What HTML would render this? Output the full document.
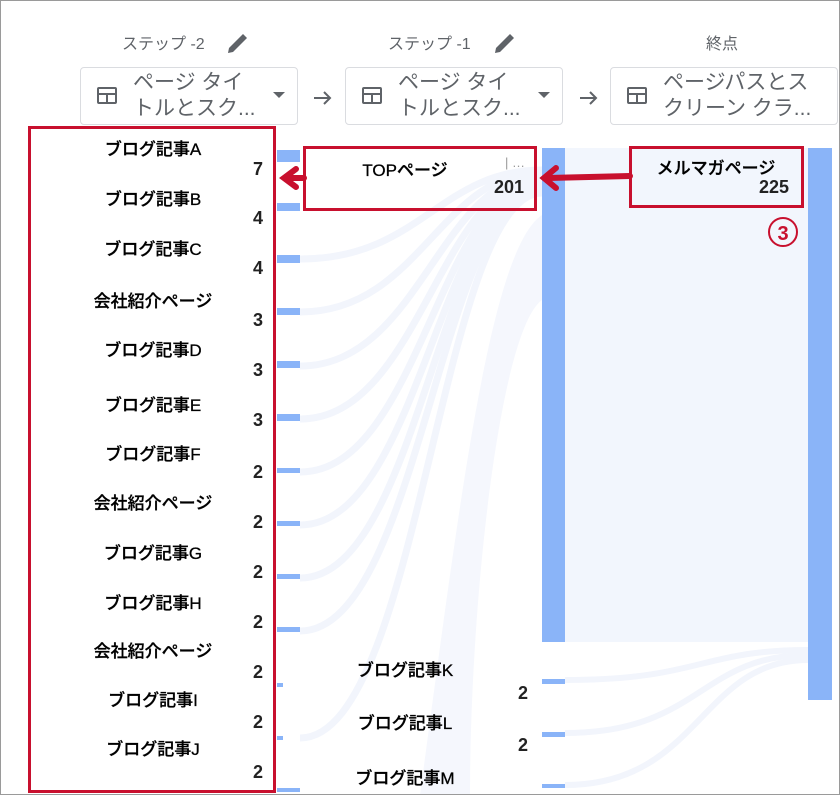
<!DOCTYPE html>
<html><head><meta charset="utf-8"><style>
*{margin:0;padding:0;box-sizing:border-box}
body{width:840px;height:795px;background:#fff;position:relative;overflow:hidden;font-family:"Liberation Sans","Noto Sans CJK JP",sans-serif;color:#202124}
.frame{position:absolute;left:0;top:0;width:840px;height:795px;border:1px solid #9a9a9a}
.a{position:absolute;white-space:nowrap}
.hd{font-size:16px;color:#5f6368}
.dd{position:absolute;top:67px;height:58px;border:1px solid #dadce0;border-radius:4px;background:#fff}
.dd .t{position:absolute;left:52px;top:2px;font-size:21px;line-height:26px;color:#5f6368}
.ic{position:absolute;left:16px;top:19px;width:20px;height:17px;border:2px solid #5f6368;border-radius:2px}
.ic:before{content:"";position:absolute;left:0;right:0;top:4px;border-top:2px solid #5f6368}
.ic:after{content:"";position:absolute;left:7px;top:4px;bottom:0;border-left:2px solid #5f6368}
.car{position:absolute;top:24px;width:0;height:0;border-left:6px solid transparent;border-right:6px solid transparent;border-top:6px solid #5f6368}
.lb{font-size:17px;color:#000;text-align:center;width:200px;font-weight:500;-webkit-text-stroke:0.3px #000}
.n{font-size:18px;font-weight:bold;color:#222}
.red{position:absolute;border:3px solid #c8102e}
</style></head><body>
<svg class="a" style="left:0;top:0" width="840" height="795">
<rect x="565" y="148" width="243" height="494" fill="#f2f6fd"/>
<g fill="none" stroke="#f2f5fc" stroke-width="7">
<path d="M300 259 C420 259 440 170 542 170"/>
<path d="M300 312 C420 312 440 172 542 172"/>
<path d="M300 366 C420 366 440 175 542 175"/>
<path d="M300 419 C420 419 440 178 542 178"/>
<path d="M300 472 C420 472 440 181 542 181"/>
<path d="M300 525 C420 525 440 184 542 184"/>
<path d="M300 578 C420 578 440 187 542 187"/>
<path d="M300 631 C420 631 440 190 542 190"/>
<path d="M300 738 C420 738 440 193 542 193"/>
</g>
<path d="M420 795 C460 500 490 250 542 215 L542 300 C500 330 470 600 470 795Z" fill="#f5f7fd"/>
<g fill="none" stroke="#f2f5fc" stroke-width="6">
<path d="M565 680 C700 680 700 650 808 650"/>
<path d="M565 733 C700 733 700 655 808 655"/>
<path d="M565 785 C700 785 700 660 808 660"/>
</g>
<rect x="542" y="148" width="23" height="494" fill="#8ab4f8"/>
<rect x="808" y="148" width="24" height="552" fill="#8ab4f8"/>
<rect x="277" y="150" width="23" height="12" fill="#8ab4f8"/>
<rect x="277" y="203" width="23" height="8" fill="#8ab4f8"/>
<g fill="#8ab4f8">
<rect x="277" y="255" width="23" height="8"/><rect x="277" y="308" width="23" height="7"/>
<rect x="277" y="361" width="23" height="7"/><rect x="277" y="414" width="23" height="7"/>
<rect x="277" y="468" width="23" height="5"/><rect x="277" y="521" width="23" height="5"/>
<rect x="277" y="574" width="23" height="5"/><rect x="277" y="627" width="23" height="5"/>
<rect x="277" y="683" width="6" height="4"/><rect x="277" y="736" width="6" height="4"/>
<rect x="277" y="788" width="23" height="4"/>
<rect x="542" y="679" width="23" height="5"/><rect x="542" y="732" width="23" height="5"/><rect x="542" y="784" width="23" height="4"/>
</g>
<g stroke="#5f6368" stroke-width="2" fill="none">
<path d="M314 98 H330 M324 92 L330 98 L324 104"/>
<path d="M580 98 H596 M590 92 L596 98 L590 104"/>
</g>
<g fill="#5f6368">
<path d="M229 48 L243 34 L247 38 L233 52 L228 53Z"/>
<path d="M496 48 L510 34 L514 38 L500 52 L495 53Z"/>
</g>
<g stroke="#c8102e" stroke-width="6" fill="none" stroke-linecap="round">
<path d="M630 176 L548 178"/><path d="M556 168 L544 178 L556 188"/>
<path d="M304 178 L288 178"/><path d="M296 169 L284 178 L296 187"/>
</g>
<circle cx="783" cy="232" r="14" fill="none" stroke="#c8102e" stroke-width="2"/>
<text x="783" y="240" font-size="20" font-weight="bold" fill="#c8102e" text-anchor="middle" font-family="Liberation Sans,sans-serif">3</text>
</svg>
<div class="a hd" style="left:122px;top:30px">ステップ -2</div>
<div class="a hd" style="left:388px;top:30px">ステップ -1</div>
<div class="a hd" style="left:706px;top:30px">終点</div>
<div class="dd" style="left:80px;width:218px"><div class="ic"></div><div class="t">ページ タイ<br>トルとスク...</div><div class="car" style="left:192px"></div></div>
<div class="dd" style="left:345px;width:218px"><div class="ic"></div><div class="t">ページ タイ<br>トルとスク...</div><div class="car" style="left:192px"></div></div>
<div class="dd" style="left:610px;width:228px"><div class="ic"></div><div class="t">ページパスとス<br>クリーン クラ...</div></div>
<div class="red" style="left:28px;top:126px;width:248px;height:667px"></div>
<div class="red" style="left:303px;top:146px;width:234px;height:65px"></div>
<div class="red" style="left:629px;top:146px;width:175px;height:62px"></div>
<div class="a lb" style="left:53px;top:135px">ブログ記事A</div>
<div class="a lb" style="left:53px;top:185px">ブログ記事B</div>
<div class="a lb" style="left:53px;top:235px">ブログ記事C</div>
<div class="a lb" style="left:53px;top:287px">会社紹介ページ</div>
<div class="a lb" style="left:53px;top:336px">ブログ記事D</div>
<div class="a lb" style="left:53px;top:391px">ブログ記事E</div>
<div class="a lb" style="left:53px;top:440px">ブログ記事F</div>
<div class="a lb" style="left:53px;top:489px">会社紹介ページ</div>
<div class="a lb" style="left:53px;top:539px">ブログ記事G</div>
<div class="a lb" style="left:53px;top:589px">ブログ記事H</div>
<div class="a lb" style="left:53px;top:637px">会社紹介ページ</div>
<div class="a lb" style="left:53px;top:686px">ブログ記事I</div>
<div class="a lb" style="left:53px;top:735px">ブログ記事J</div>
<div class="a n" style="left:253px;top:159px">7</div>
<div class="a n" style="left:253px;top:208px">4</div>
<div class="a n" style="left:253px;top:258px">4</div>
<div class="a n" style="left:253px;top:310px">3</div>
<div class="a n" style="left:253px;top:360px">3</div>
<div class="a n" style="left:253px;top:410px">3</div>
<div class="a n" style="left:253px;top:462px">2</div>
<div class="a n" style="left:253px;top:512px">2</div>
<div class="a n" style="left:253px;top:562px">2</div>
<div class="a n" style="left:253px;top:612px">2</div>
<div class="a n" style="left:253px;top:662px">2</div>
<div class="a n" style="left:253px;top:712px">2</div>
<div class="a n" style="left:253px;top:762px">2</div>
<div class="a lb" style="left:305px;top:156px;width:200px">TOPページ</div>
<div class="a" style="left:505px;top:155px;color:#999;font-size:13px">|&nbsp;…</div>
<div class="a n" style="left:494px;top:177px">201</div>
<div class="a lb" style="left:616px;top:154px">メルマガページ</div>
<div class="a n" style="left:759px;top:177px">225</div>
<div class="a lb" style="left:305px;top:656px">ブログ記事K</div>
<div class="a lb" style="left:305px;top:709px">ブログ記事L</div>
<div class="a lb" style="left:305px;top:764px">ブログ記事M</div>
<div class="a n" style="left:518px;top:683px">2</div>
<div class="a n" style="left:518px;top:735px">2</div>
<div class="frame"></div>
</body></html>
